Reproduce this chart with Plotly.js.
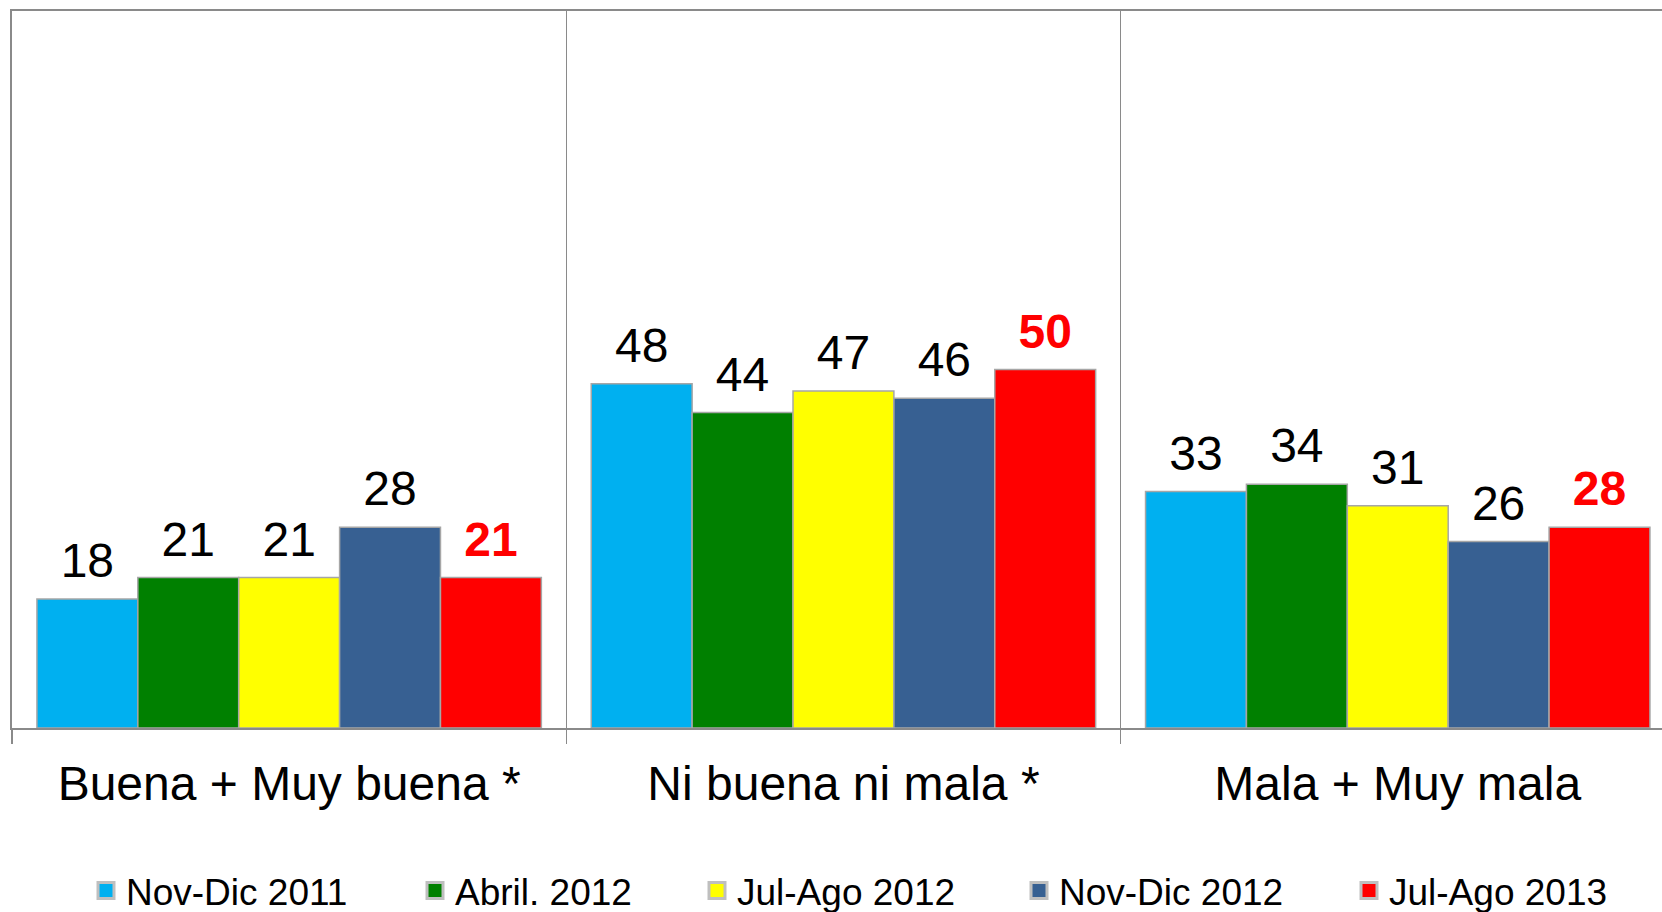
<!DOCTYPE html>
<html>
<head>
<meta charset="utf-8">
<script src="https://cdn.plot.ly/plotly-3.0.1.min.js"></script>
<style>html,body{margin:0;padding:0;background:#fff;}#chart{width:1662px;height:912px;}</style>
</head>
<body>
<div id="chart"></div>
<script>
const categories = ["Buena + Muy buena *", "Ni buena ni mala *", "Mala + Muy mala"];
const seriesNames = ["Nov-Dic 2011", "Abril. 2012", "Jul-Ago 2012", "Nov-Dic 2012", "Jul-Ago 2013"];
const novDic2011 = [18, 48, 33];
const abril2012 = [21, 44, 34];
const julAgo2012 = [21, 47, 31];
const novDic2012 = [28, 46, 26];
const julAgo2013 = [21, 50, 28];
const seriesValues = [novDic2011, abril2012, julAgo2012, novDic2012, julAgo2013];
const seriesColors = ["#00B0F0", "#008000", "#FFFF00", "#376092", "#FF0000"];
const legendLeftPx = [97, 426, 708, 1030, 1360];

const FONT = "Liberation Sans, Arial, sans-serif";
const plotLeft = 12, plotRight = 1662, plotTop = 11, plotBottom = 728;
const plotW = plotRight - plotLeft, plotH = plotBottom - plotTop;
const GAP = 0.09;

const legendKey = i => (i === 0 ? "legend" : "legend" + (i + 1));

// bars
const barTraces = seriesValues.map((vals, i) => ({
  type: "bar",
  name: seriesNames[i],
  x: categories,
  y: vals,
  marker: {color: seriesColors[i], line: {color: "#A6A6A6", width: 1.5}},
  showlegend: false,
  hoverinfo: "skip"
}));

// value labels, grouped like the bars
const labelTraces = seriesValues.map((vals, i) => {
  const last = i === seriesValues.length - 1;
  return {
    type: "scatter",
    mode: "markers+text",
    name: seriesNames[i],
    x: categories,
    y: vals,
    text: vals.map(String),
    textposition: "top center",
    cliponaxis: false,
    textfont: {family: FONT, size: 48, color: last ? "#FF0000" : "#000000", weight: last ? "bold" : "normal"},
    marker: {size: 14, opacity: 0, color: seriesColors[i]},
    showlegend: false,
    hoverinfo: "skip"
  };
});

// legend entries (on a hidden overlay axis so they do not join the groups)
const legendTraces = seriesNames.map((nm, i) => ({
  type: "scatter",
  mode: "markers",
  name: nm,
  x: [null],
  y: [null],
  xaxis: "x2",
  yaxis: "y2",
  marker: {symbol: "square", size: 16, color: seriesColors[i], line: {color: "#BFBFBF", width: 3}},
  legend: legendKey(i),
  showlegend: true,
  hoverinfo: "skip"
}));

const layout = {
  width: 1662, height: 912,
  margin: {l: plotLeft, r: 1662 - plotRight, t: plotTop, b: 912 - plotBottom, pad: 0},
  paper_bgcolor: "#ffffff", plot_bgcolor: "#ffffff",
  barmode: "group", bargap: GAP, bargroupgap: 0,
  scattermode: "group", scattergap: GAP,
  font: {family: FONT, color: "#000000"},
  xaxis: {
    type: "category",
    range: [-0.5, -0.5 + plotW / 554.3],
    showline: true, linecolor: "#8A8A8A", linewidth: 2, mirror: true,
    tickson: "boundaries", ticks: "outside", ticklen: 14, tickcolor: "#8A8A8A", tickwidth: 1.5,
    showgrid: true, gridcolor: "#8A8A8A", gridwidth: 1.5,
    tickfont: {family: FONT, size: 48, color: "#000000"},
    ticklabelstandoff: 12,
    fixedrange: true
  },
  yaxis: {
    range: [0, 100],
    showline: true, linecolor: "#8A8A8A", linewidth: 2,
    showgrid: false, zeroline: false, showticklabels: false, ticks: "",
    fixedrange: true
  },
  xaxis2: {overlaying: "x", visible: false, range: [0, 1], fixedrange: true},
  yaxis2: {overlaying: "y", visible: false, range: [0, 1], fixedrange: true},
  showlegend: true
};

legendLeftPx.forEach((px, i) => {
  layout[legendKey(i)] = {
    orientation: "h",
    xref: "paper", x: (px - 11 - plotLeft) / plotW, xanchor: "left",
    yref: "container", y: (912 - 891) / 912, yanchor: "middle",
    bgcolor: "rgba(0,0,0,0)", borderwidth: 0,
    itemsizing: "trace",
    font: {family: FONT, size: 37, color: "#000000"}
  };
});

Plotly.newPlot("chart", barTraces.concat(labelTraces, legendTraces), layout, {displayModeBar: false, staticPlot: true});
</script>
</body>
</html>
